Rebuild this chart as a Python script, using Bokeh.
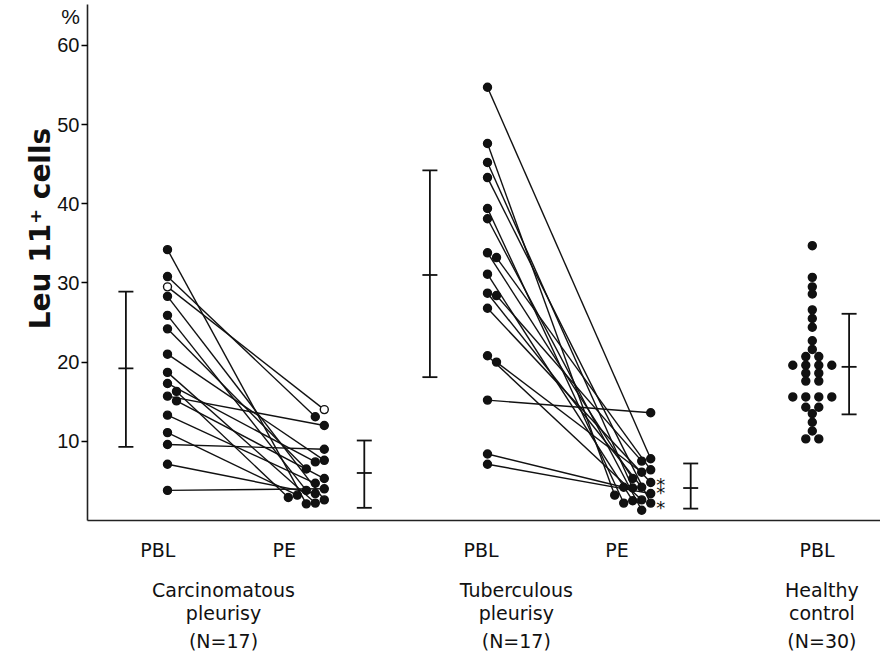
import math
from bokeh.plotting import figure
from bokeh.models import Range1d, FixedTicker, LinearAxis
from bokeh.embed import file_html
from bokeh.resources import INLINE
from bokeh.core.properties import value

# ---------------- data ----------------
# Carcinomatous pleurisy, paired PBL -> PE (%)
carc_pbl = [34.2, 30.8, 29.5, 28.3, 25.9, 24.2, 21.0, 18.7, 17.3, 16.3, 15.7, 15.1, 13.3, 11.1, 9.6, 7.1, 3.8]
carc_pe = [2.1, 13.1, 14.0, 2.6, 3.8, 6.5, 7.6, 2.2, 7.4, 2.9, 12.0, 5.3, 4.7, 3.2, 9.0, 3.4, 4.0]
carc_open = [False, False, True, False, False, False, False, False, False,
             False, False, False, False, False, False, False, False]
# Tuberculous pleurisy, paired PBL -> PE (%)
tb_pbl = [54.7, 47.6, 45.2, 43.3, 39.4, 38.1, 33.8, 33.2, 31.1, 28.7, 28.4, 26.8, 20.8, 20.0, 15.2, 8.4, 7.1]
tb_pe = [7.8, 3.2, 4.1, 2.2, 2.2, 1.3, 5.3, 6.4, 2.5, 4.2, 7.5, 4.8, 2.6, 6.1, 13.6, 4.2, 3.4]
# Healthy control PBL (%)
hc_pbl = [34.7, 30.7, 29.5, 28.6, 26.6, 25.5, 24.4, 22.7, 21.6, 20.7, 20.7,
          19.6, 19.6, 19.6, 19.6, 18.6, 18.6, 17.6, 17.6, 15.6, 15.6, 15.6, 15.6,
          14.3, 14.3, 13.5, 12.4, 11.3, 10.3, 10.3]
# summary bars: (mean, low, high)
carc_pbl_bar = (19.2, 9.3, 28.9)
carc_pe_bar = (6.0, 1.6, 10.1)
tb_pbl_bar = (31.0, 18.1, 44.2)
tb_pe_bar = (4.1, 1.5, 7.2)
hc_bar = (19.4, 13.4, 26.1)
# PE values flagged with an asterisk (tuberculous)
tb_pe_flagged = [5.1, 4.0, 2.2]

y_ticks = [10, 20, 30, 40, 50, 60]
col_labels = ["PBL", "PE", "PBL", "PE", "PBL"]
group_titles = [["Carcinomatous", "pleurisy", "(N=17)"],
                ["Tuberculous", "pleurisy", "(N=17)"],
                ["Healthy", "control", "(N=30)"]]

# ---------------- layout ----------------
W, H = 880, 655
ORIGIN = 0            # page offset of the canvas
PX_X = 160.0          # pixels per x unit
PX_Y = 7.92           # pixels per y unit
AXIS_PX, ZERO_PY = 87, 520      # page position of the y axis and of y = 0
X0 = 0.5 - (AXIS_PX - ORIGIN) / PX_X
X1 = X0 + W / PX_X
Y1 = (ZERO_PY - ORIGIN) / PX_Y
Y0 = Y1 - H / PX_Y
Y_TOP = (ZERO_PY - 4) / PX_Y

XC_PBL, XC_PE, XT_PBL, XT_PE, XH = 1.0, 1.98, 3.0, 4.02, 5.03
BAR_X = [0.74, 2.23, 2.64, 4.27, 5.26]
LABEL_X = [0.94, 1.73, 2.96, 3.81, 5.06]
GROUP_X = [1.35, 3.18, 5.09]
FONT = "DejaVu Sans"
INK = "#111111"


def page_x(px):
    return X0 + (px - ORIGIN) / PX_X


def page_y(py):
    return (ZERO_PY - py) / PX_Y


def swarm(vals, direction, step_px=9.0, min_px=9.0):
    """greedy placement: shift a dot sideways until it no longer overlaps"""
    offs = [0.0] * len(vals)
    placed = []
    for i in sorted(range(len(vals)), key=lambda k: -vals[k]):
        k = 0
        while True:
            o = direction * k * step_px
            if all((o - po) ** 2 + ((vals[i] - pv) * PX_Y) ** 2 >= min_px ** 2 for po, pv in placed):
                break
            k += 1
        offs[i] = o / PX_X
        placed.append((o, vals[i]))
    return offs


def centered(vals, spacing_px=13.0):
    groups = {}
    for i, v in enumerate(vals):
        groups.setdefault(v, []).append(i)
    offs = [0.0] * len(vals)
    for v, idx in groups.items():
        n = len(idx)
        for j, i in enumerate(idx):
            offs[i] = (j - (n - 1) / 2) * spacing_px / PX_X
    return offs


p = figure(width=W, height=H, output_backend="svg", toolbar_location=None,
           x_range=Range1d(X0, X1), y_range=Range1d(Y0, Y1),
           x_axis_location=None, y_axis_location=None,
           min_border=0, min_border_left=0, min_border_right=0,
           min_border_top=0, min_border_bottom=0)
p.grid.visible = False
p.outline_line_color = None
p.background_fill_color = "white"

# y axis, placed at x = 0.5 inside the canvas
yax = LinearAxis(fixed_location=0.5, bounds=(0, Y_TOP), ticker=FixedTicker(ticks=y_ticks))
yax.major_tick_out = 6
yax.major_tick_in = 0
yax.minor_tick_line_color = None
yax.major_label_text_font = "Liberation Sans"
yax.major_label_text_font_size = "20px"
yax.major_label_text_color = INK
yax.major_label_standoff = 2
yax.axis_line_width = 1.6
yax.axis_line_color = "#222222"
yax.major_tick_line_width = 1.4
p.add_layout(yax, "left")

# x axis at y = 0 with the column labels as its tick labels
xax = LinearAxis(fixed_location=0, bounds=(0.5, X1), ticker=FixedTicker(ticks=LABEL_X))
xax.major_label_overrides = {x: t for x, t in zip(LABEL_X, col_labels)}
xax.major_tick_line_color = None
xax.major_tick_out = 0
xax.major_tick_in = 0
xax.minor_tick_line_color = None
xax.major_label_standoff = 18
xax.major_label_text_font = FONT
xax.major_label_text_font_size = "19px"
xax.major_label_text_color = INK
xax.axis_line_width = 1.6
xax.axis_line_color = "#222222"
p.add_layout(xax, "below")


def paired(xa, xb, a, b, open_flags=None, dir_a=1, dir_b=-1):
    oa = swarm(a, dir_a)
    ob = swarm(b, dir_b)
    x0 = [xa + o for o in oa]
    x1 = [xb + o for o in ob]
    p.segment(x0=x0, y0=a, x1=x1, y1=b, line_color=INK, line_width=1.4)
    flags = open_flags or [False] * len(a)
    fill = ["white" if f else INK for f in flags]
    p.scatter(x=x0, y=a, size=8, marker="circle", fill_color=fill, line_color=INK, line_width=1.4)
    p.scatter(x=x1, y=b, size=8, marker="circle", fill_color=fill, line_color=INK, line_width=1.4)


paired(XC_PBL, XC_PE, carc_pbl, carc_pe, carc_open)
paired(XT_PBL, XT_PE, tb_pbl, tb_pe)

ho = centered(hc_pbl)
p.scatter(x=[XH + o for o in ho], y=hc_pbl, size=8, marker="circle",
          fill_color=INK, line_color=INK, line_width=1.4)

# summary bars (mean with range)
bars = [carc_pbl_bar, carc_pe_bar, tb_pbl_bar, tb_pe_bar, hc_bar]
cap = 7.5 / PX_X
means = [b[0] for b in bars]
lows = [b[1] for b in bars]
highs = [b[2] for b in bars]
p.segment(x0=BAR_X, y0=lows, x1=BAR_X, y1=highs, line_color=INK, line_width=1.8)
for ys in (lows, highs, means):
    p.segment(x0=[x - cap for x in BAR_X], y0=ys, x1=[x + cap for x in BAR_X], y1=ys,
              line_color=INK, line_width=1.8)

# asterisks
p.text(x=[XT_PE + 10 / PX_X] * len(tb_pe_flagged), y=tb_pe_flagged, text=["*"] * len(tb_pe_flagged),
       text_font=value(FONT), text_font_size="18px", text_align="center",
       text_baseline="middle", text_color=INK, y_offset=4)

# group titles under the axis
gx, gy, gt = [], [], []
for x, lines in zip(GROUP_X, group_titles):
    for py, t in zip((589, 612, 640), lines):
        gx.append(x)
        gy.append(page_y(py))
        gt.append(t)
p.text(x=gx, y=gy, text=gt, text_font=value(FONT), text_font_size="19px",
       text_align="center", text_baseline="middle", text_color=INK)

# unit sign and y title
p.text(x=[page_x(70)], y=[page_y(16)], text=["%"], text_font=value("Liberation Sans"),
       text_font_size="21px", text_align="center", text_baseline="middle", text_color=INK)
p.text(x=[page_x(40)], y=[page_y(228)], text=["Leu 11\u207a cells"], text_font=value(FONT),
       text_font_size="28px", text_font_style="bold", angle=math.pi / 2,
       text_align="center", text_baseline="middle", text_color=INK)

open("out.html", "w").write(file_html(p, INLINE))
